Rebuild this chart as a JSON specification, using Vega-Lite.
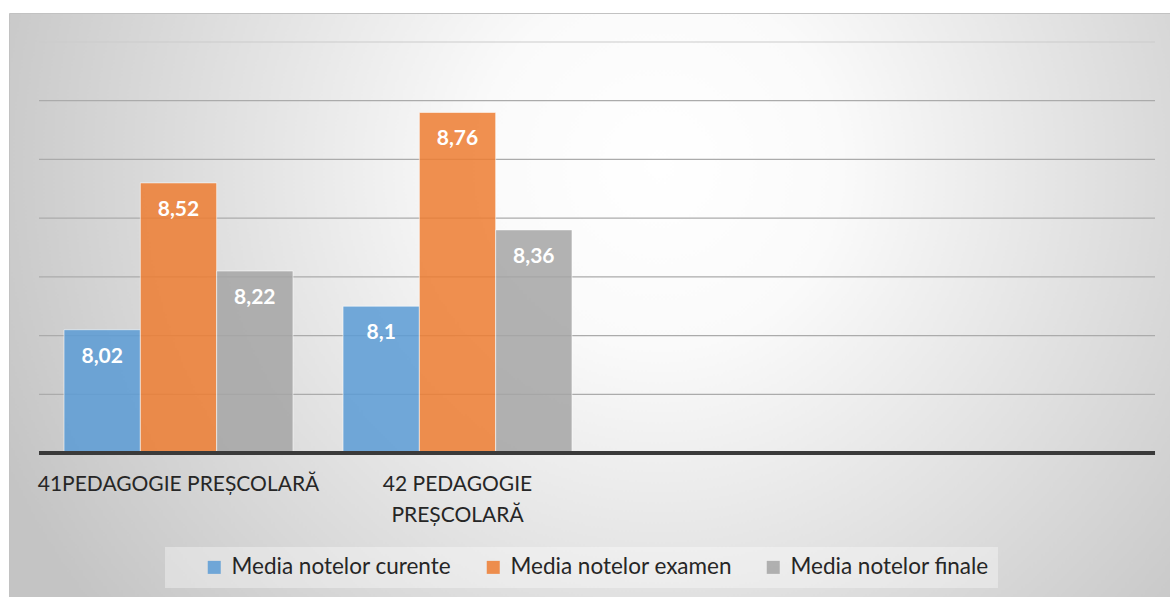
{
  "$schema": "https://vega.github.io/schema/vega-lite/v6.json",
  "width": 1161,
  "height": 584,
  "autosize": {"type": "none"},
  "padding": {"left": 9, "top": 13, "right": 0, "bottom": 0},
  "background": "#ffffff",
  "view": {
    "fill": {"gradient": "radial", "x1": 0.56, "y1": 0.38, "r1": 0, "x2": 0.56, "y2": 0.38, "r2": 0.62,
      "stops": [{"offset": 0, "color": "#ffffff"}, {"offset": 0.25, "color": "#fafafa"}, {"offset": 1, "color": "#c4c4c4"}]},
    "stroke": "#c2c2c2",
    "strokeWidth": 1
  },
  "config": {
    "font": "Lato",
    "axisX": {"domain": false, "ticks": false, "grid": false},
    "axisY": {"domain": false, "ticks": false, "grid": false},
    "locale": {"number": {"decimal": ",", "thousands": ".", "grouping": [3], "currency": ["", ""]}}
  },
  "datasets": {
    "bars": [
      {"cat": "41", "serie": "Media notelor curente", "v": 8.02},
      {"cat": "41", "serie": "Media notelor examen", "v": 8.52},
      {"cat": "41", "serie": "Media notelor finale", "v": 8.22},
      {"cat": "42", "serie": "Media notelor curente", "v": 8.1},
      {"cat": "42", "serie": "Media notelor examen", "v": 8.76},
      {"cat": "42", "serie": "Media notelor finale", "v": 8.36}
    ],
    "grid": [{"g": 7.8}, {"g": 8.0}, {"g": 8.2}, {"g": 8.4}, {"g": 8.6}, {"g": 8.8}],
    "gridtop": [{"g": 9.0}],
    "base": [{"g": 7.6}]
  },
  "layer": [
    {
      "data": {"name": "grid"},
      "mark": {"type": "rule", "color": "#ababab", "strokeWidth": 1.2},
      "encoding": {
        "y": {"field": "g", "type": "quantitative", "scale": {"domain": [7.1095, 9.0988], "nice": false, "zero": false}, "axis": null},
        "x": {"datum": "41", "bandPosition": 0, "scale": {"type": "band", "domain": ["41", "42", "c3", "c4"], "paddingInner": 0, "paddingOuter": 0.0806, "align": 0.667}},
        "x2": {"datum": "c4", "bandPosition": 1}
      }
    },
    {
      "data": {"name": "gridtop"},
      "mark": {"type": "rule", "color": "#cbcbcb", "strokeWidth": 1.2},
      "encoding": {
        "y": {"field": "g", "type": "quantitative", "scale": {"domain": [7.1095, 9.0988], "nice": false, "zero": false}, "axis": null},
        "x": {"datum": "41", "bandPosition": 0},
        "x2": {"datum": "c4", "bandPosition": 1}
      }
    },
    {
      "data": {"name": "bars"},
      "mark": {"type": "bar", "fillOpacity": 0.85, "stroke": "#ffffff", "strokeOpacity": 0.55, "strokeWidth": 1},
      "encoding": {
        "x": {"field": "cat", "type": "nominal",
          "scale": {"type": "band", "domain": ["41", "42", "c3", "c4"], "paddingInner": 0, "paddingOuter": 0.0806, "align": 0.667},
          "axis": {"orient": "bottom", "offset": -144, "domain": false, "ticks": false, "grid": false, "title": null, "labelAngle": 0, "labelAlign": "center",
            "labelExpr": "datum.value == '41' ? '41PEDAGOGIE PREȘCOLARĂ' : (datum.value == '42' ? ['42 PEDAGOGIE', 'PREȘCOLARĂ'] : '')",
            "labelFont": "Lato", "labelFontSize": 21, "labelColor": "#262626", "labelPadding": 31, "labelLineHeight": 31,
            "labelLimit": 500, "labelOverlap": false}},
        "xOffset": {"field": "serie", "type": "nominal", "scale": {"domain": ["Media notelor curente", "Media notelor examen", "Media notelor finale"], "paddingInner": 0, "paddingOuter": 0.328}},
        "y": {"field": "v", "type": "quantitative", "scale": {"domain": [7.1095, 9.0988], "nice": false, "zero": false}, "axis": null},
        "y2": {"datum": 7.6},
        "color": {"field": "serie", "type": "nominal",
          "scale": {"domain": ["Media notelor curente", "Media notelor examen", "Media notelor finale"], "range": ["#5B9BD5", "#ED7D31", "#A5A5A5"]},
          "legend": {"orient": "none", "legendX": 156, "legendY": 534, "direction": "horizontal", "title": null,
            "symbolType": "square", "symbolSize": 169, "symbolStrokeWidth": 0, "symbolOpacity": 0.85,
            "labelFont": "Lato", "labelFontSize": 22.5, "labelColor": "#262626", "labelOffset": 6, "labelLimit": 400,
            "columnPadding": 1, "padding": 9, "symbolOffset": 29,
            "fillColor": "rgba(255,255,255,0.35)"}}
      }
    },
    {
      "data": {"name": "base"},
      "mark": {"type": "rule", "color": "#3a3a3a", "strokeWidth": 4},
      "encoding": {
        "y": {"field": "g", "type": "quantitative", "scale": {"domain": [7.1095, 9.0988], "nice": false, "zero": false}, "axis": null},
        "x": {"datum": "41", "bandPosition": 0},
        "x2": {"datum": "c4", "bandPosition": 1}
      }
    },
    {
      "data": {"name": "bars"},
      "mark": {"type": "text", "font": "Lato", "fontWeight": "bold", "fontSize": 21, "fill": "#ffffff", "baseline": "middle", "dy": 27},
      "encoding": {
        "x": {"field": "cat", "type": "nominal"},
        "xOffset": {"field": "serie", "type": "nominal"},
        "y": {"field": "v", "type": "quantitative"},
        "text": {"field": "v", "type": "quantitative", "format": "~g"}
      }
    }
  ]
}
